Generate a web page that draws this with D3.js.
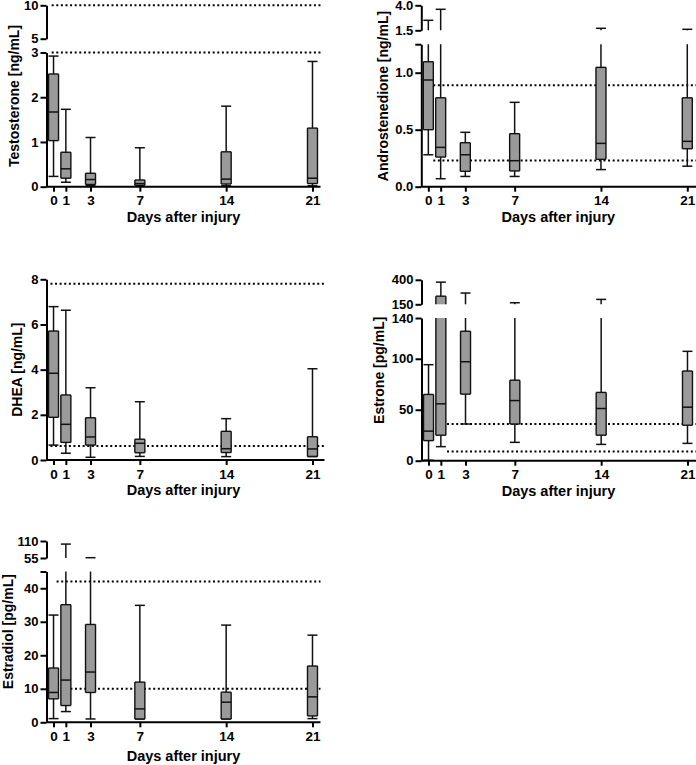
<!DOCTYPE html>
<html><head><meta charset="utf-8">
<script src="https://cdn.jsdelivr.net/npm/d3@7"></script>
<style>
body{margin:0;background:#fff;}
text{font-family:"Liberation Sans",Arial,sans-serif;font-weight:bold;fill:#000;}
</style></head>
<body><svg id="c" width="696" height="765"></svg>
<script>
const days = [0, 1, 3, 7, 14, 21];
const xTitle = "Days after injury";

// Testosterone [ng/mL]
const testoMin = [0.23, 0.10, 0.02, 0.01, 0.02, 0.02];
const testoQ1  = [1.03, 0.19, 0.05, 0.03, 0.06, 0.07];
const testoMed = [1.67, 0.40, 0.16, 0.07, 0.17, 0.19];
const testoQ3  = [2.52, 0.77, 0.30, 0.15, 0.78, 1.31];
const testoMax = [2.92, 1.73, 1.10, 0.87, 1.80, 2.80];
const testoRefs = [10, 3];

// Androstenedione [ng/mL]
const androMin = [0.28, 0.07, 0.09, 0.09, 0.15, 0.18];
const androQ1  = [0.50, 0.26, 0.135, 0.138, 0.24, 0.333];
const androMed = [0.936, 0.345, 0.28, 0.228, 0.38, 0.398];
const androQ3  = [1.096, 0.78, 0.386, 0.465, 1.047, 0.78];
const androMax = [2.5, 3.6, 0.477, 0.74, 1.7, 1.6];
const androRefs = [0.89, 0.23];

// DHEA [ng/mL]
const dheaMin = [0.66, 0.30, 0.12, 0.16, 0.15, 0.15];
const dheaQ1  = [1.89, 0.78, 0.66, 0.32, 0.33, 0.16];
const dheaMed = [3.84, 1.58, 1.02, 0.74, 0.50, 0.49];
const dheaQ3  = [5.71, 2.88, 1.87, 0.92, 1.27, 1.03];
const dheaMax = [6.79, 6.63, 3.20, 2.58, 1.83, 4.04];
const dheaRefs = [7.8, 0.62];

// Estrone [pg/mL]
const estroneMin = [0.5, 13.8, 36, 18, 16, 17];
const estroneQ1  = [19.7, 25, 65.3, 36, 25, 34.8];
const estroneMed = [29, 55.8, 97.1, 59, 51.2, 52.5];
const estroneQ3  = [65, 233, 127, 79, 67, 88];
const estroneMax = [94.2, 376, 265, 166, 200, 107.3];
const estroneRefs = [36, 9];

// Estradiol [pg/mL]
const estradiolMin = [1.1, 3.2, 1, 1, 1, 1.1];
const estradiolQ1  = [7, 5, 8.9, 1, 1, 1.9];
const estradiolMed = [8.9, 12.6, 15, 4, 6, 7.6];
const estradiolQ3  = [16.2, 35.1, 29.2, 12, 9, 16.8];
const estradiolMax = [32, 100, 56, 34.9, 29, 26];
const estradiolRefs = [42, 10];

// y-axis segments (broken axes): tick values + tick labels
const testoTicksLo = [0, 1, 2, 3],  testoLabLo = ["0", "1", "2", "3"];
const testoTicksHi = [5, 10],       testoLabHi = ["5", "10"];
const androTicksLo = [0, 0.5, 1.0, 1.25], androLabLo = ["0.0", "0.5", "1.0", ""];
const androTicksHi = [1.5, 4.0],    androLabHi = ["1.5", "4.0"];
const dheaTicks = [0, 2, 4, 6, 8],  dheaLab = ["0", "2", "4", "6", "8"];
const estroneTicksLo = [0, 50, 100, 140], estroneLabLo = ["0", "50", "100", "140"];
const estroneTicksHi = [150, 400],  estroneLabHi = ["150", "400"];
const estradiolTicksLo = [0, 10, 20, 30, 40, 45], estradiolLabLo = ["0", "10", "20", "30", "40", ""];
const estradiolTicksHi = [55, 110], estradiolLabHi = ["55", "110"];

const svg = d3.select("#c");
const PW = 274;         // plot width in px
const xDom = [-0.57, 21.65];

function rowsOf(mn, q1, md, q3, mx) {
  return days.map((d, i) => ({day: d, min: mn[i], q1: q1[i], med: md[i], q3: q3[i], max: mx[i]}));
}

function panel(cfg) {
  const g = svg.append("g");
  const x = d3.scaleLinear().domain(xDom).range([cfg.ax, cfg.ax + PW]);
  const segs = cfg.segs.map(s => ({...s, scale: d3.scaleLinear().domain([s.ticks[0], s.ticks[s.ticks.length - 1]]).range(s.range)}));
  const yOf = v => { for (const s of segs) { const d = s.scale.domain(); if (v >= d[0] - 1e-9 && v <= d[1] + 1e-9) return s.scale(v); } return null; };
  const pieces = (a, b) => {
    const out = [];
    segs.forEach(s => { const d = s.scale.domain(); const lo = Math.max(a, d[0]), hi = Math.min(b, d[1]); if (lo <= hi) out.push([s.scale(lo), s.scale(hi), lo === a, hi === b]); });
    return out;
  };
  // reference lines
  cfg.refs.forEach(r => {
    g.append("line").attr("x1", x(cfg.refStart)).attr("x2", cfg.ax + PW + cfg.extra)
      .attr("y1", yOf(r)).attr("y2", yOf(r))
      .attr("stroke", "#000").attr("stroke-width", 2).attr("stroke-dasharray", "2,2.6");
  });
  const rows = cfg.rows;
  const bw = 10, cw = 10;
  rows.forEach(d => {
    const cx = x(d.day);
    [[d.q3, d.max], [d.min, d.q1]].forEach(([a, b]) => {
      pieces(a, b).forEach(([y1, y2]) => g.append("line").attr("x1", cx).attr("x2", cx).attr("y1", y1).attr("y2", y2).attr("stroke", "#111").attr("stroke-width", 1.5));
    });
    [d.max, d.min].forEach(v => {
      const y = yOf(v);
      g.append("line").attr("x1", cx - cw / 2).attr("x2", cx + cw / 2).attr("y1", y).attr("y2", y).attr("stroke", "#111").attr("stroke-width", 1.5);
    });
    pieces(d.q1, d.q3).forEach(([yb, yt, realBottom, realTop]) => {
      g.append("rect").attr("x", cx - bw / 2).attr("y", yt).attr("width", bw).attr("height", Math.max(0.5, yb - yt))
        .attr("fill", "#9a9a9a").attr("stroke", "none");
      g.append("line").attr("x1", cx - bw / 2).attr("x2", cx - bw / 2).attr("y1", yb).attr("y2", yt).attr("stroke", "#111").attr("stroke-width", 1.4);
      g.append("line").attr("x1", cx + bw / 2).attr("x2", cx + bw / 2).attr("y1", yb).attr("y2", yt).attr("stroke", "#111").attr("stroke-width", 1.4);
      if (realBottom) g.append("line").attr("x1", cx - bw / 2).attr("x2", cx + bw / 2).attr("y1", yb).attr("y2", yb).attr("stroke", "#111").attr("stroke-width", 1.4);
      if (realTop) g.append("line").attr("x1", cx - bw / 2).attr("x2", cx + bw / 2).attr("y1", yt).attr("y2", yt).attr("stroke", "#111").attr("stroke-width", 1.4);
    });
    const ym = yOf(d.med);
    g.append("line").attr("x1", cx - bw / 2).attr("x2", cx + bw / 2).attr("y1", ym).attr("y2", ym).attr("stroke", "#111").attr("stroke-width", 1.5);
  });
  // y axes
  segs.forEach(s => {
    const ax = d3.axisLeft(s.scale).tickValues(s.ticks).tickFormat((v, i) => s.labels[i]).tickSize(6).tickPadding(2).tickSizeOuter(0);
    const ga = g.append("g").attr("transform", `translate(${cfg.ax},0)`).call(ax);
    ga.selectAll("path,line").attr("stroke", "#000").attr("stroke-width", 2);
    ga.selectAll("text").style("font-size", "13px").style("font-family", '"Liberation Sans",Arial,sans-serif').style("font-weight", "bold");
  });
  // x axis
  const y0 = segs[0].range[0];
  const xa = d3.axisBottom(x).tickValues(days).tickFormat(d3.format("d")).tickSize(5).tickPadding(4).tickSizeOuter(0);
  const gx = g.append("g").attr("transform", `translate(0,${y0})`).call(xa);
  gx.select(".domain").attr("d", `M${cfg.ax},0H${cfg.ax + PW + cfg.extra}`);
  gx.selectAll("path,line").attr("stroke", "#000").attr("stroke-width", 2);
  gx.selectAll("text").style("font-size", "13.5px").style("font-family", '"Liberation Sans",Arial,sans-serif').style("font-weight", "bold");
  // titles
  g.append("text").attr("x", cfg.ax + PW / 2).attr("y", y0 + cfg.titleOff).attr("text-anchor", "middle").style("font-size", "14.5px").text(xTitle);
  const top = segs[segs.length - 1].range[1];
  const yc = (y0 + top) / 2;
  g.append("text").attr("transform", `translate(${cfg.labelX + 5},${yc}) rotate(-90)`).attr("text-anchor", "middle").style("font-size", "14px").text(cfg.label);
}

panel({ax: 46.5, extra: 0, refStart: -0.15, titleOff: 35, labelX: 14, label: "Testosterone [ng/mL]",
  rows: rowsOf(testoMin, testoQ1, testoMed, testoQ3, testoMax), refs: testoRefs,
  segs: [{ticks: testoTicksLo, labels: testoLabLo, range: [186.7, 52.5]}, {ticks: testoTicksHi, labels: testoLabHi, range: [38.7, 5.3]}]});

panel({ax: 421.3, extra: 2, refStart: 0.4, titleOff: 35, labelX: 383, label: "Androstenedione [ng/mL]",
  rows: rowsOf(androMin, androQ1, androMed, androQ3, androMax), refs: androRefs,
  segs: [{ticks: androTicksLo, labels: androLabLo, range: [186.7, 44.2]}, {ticks: androTicksHi, labels: androLabHi, range: [30.3, 5.3]}]});

panel({ax: 46.5, extra: 4, refStart: -0.25, titleOff: 35, labelX: 16.7, label: "DHEA [ng/mL]",
  rows: rowsOf(dheaMin, dheaQ1, dheaMed, dheaQ3, dheaMax), refs: dheaRefs,
  segs: [{ticks: dheaTicks, labels: dheaLab, range: [460, 279.3]}]});

panel({ax: 421.5, extra: 2, refStart: 1.5, titleOff: 35, labelX: 379, label: "Estrone [pg/mL]",
  rows: rowsOf(estroneMin, estroneQ1, estroneMed, estroneQ3, estroneMax), refs: estroneRefs,
  segs: [{ticks: estroneTicksLo, labels: estroneLabLo, range: [460.7, 318]}, {ticks: estroneTicksHi, labels: estroneLabHi, range: [304.3, 279.8]}]});

panel({ax: 46.5, extra: 0, refStart: 0.25, titleOff: 39, labelX: 8, label: "Estradiol [pg/mL]",
  rows: rowsOf(estradiolMin, estradiolQ1, estradiolMed, estradiolQ3, estradiolMax), refs: estradiolRefs,
  segs: [{ticks: estradiolTicksLo, labels: estradiolLabLo, range: [722.3, 571.5]}, {ticks: estradiolTicksHi, labels: estradiolLabHi, range: [558, 541]}]});
</script>
</body></html>
